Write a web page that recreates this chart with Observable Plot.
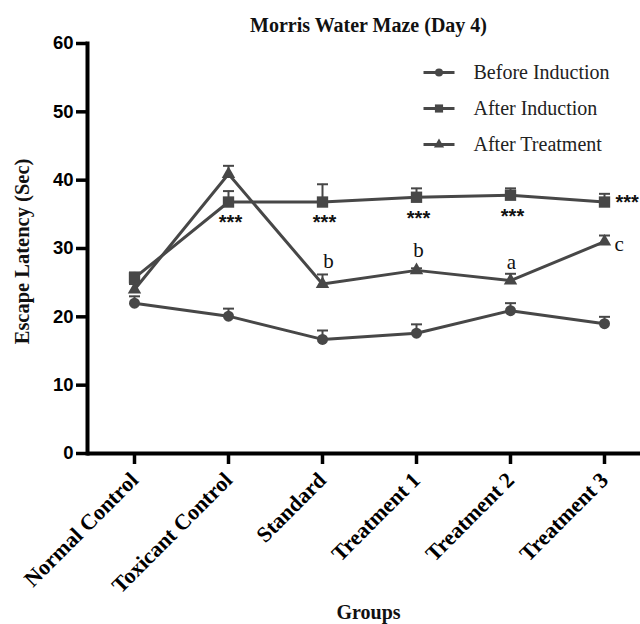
<!DOCTYPE html>
<html>
<head>
<meta charset="utf-8">
<script src="https://cdn.jsdelivr.net/npm/d3@7"></script>
<script src="https://cdn.jsdelivr.net/npm/@observablehq/plot@0.6"></script>
<style>
  html, body { margin: 0; padding: 0; background: #fff; }
  #chart svg { display: block; overflow: visible; }
</style>
</head>
<body>
<div id="chart"></div>
<script>
// ---- data ----
const groups = ["Normal Control", "Toxicant Control", "Standard", "Treatment 1", "Treatment 2", "Treatment 3"];
const series = ["Before Induction", "After Induction", "After Treatment"];
const beforeMean = [22.0, 20.1, 16.7, 17.6, 20.9, 19.0];
const beforeSem  = [1.0, 1.1, 1.3, 1.3, 1.1, 1.0];
const afterIndMean = [25.7, 36.8, 36.8, 37.5, 37.8, 36.8];
const afterIndSem  = [0.8, 1.6, 2.6, 1.3, 1.0, 1.2];
const afterTrtMean = [24.0, 40.9, 24.8, 26.8, 25.3, 31.0];
const afterTrtSem  = [0.8, 1.2, 1.4, 0.3, 1.0, 0.9];
const yTicks = [0, 10, 20, 30, 40, 50, 60];
const starGroups = ["Toxicant Control", "Standard", "Treatment 1", "Treatment 2"];
const starSideGroup = "Treatment 3";
const starText = "***";
const letterGroups = ["Standard", "Treatment 1", "Treatment 2", "Treatment 3"];
const letters = ["b", "b", "a", "c"];
const titleText = "Morris Water Maze (Day 4)";
const yLabel = "Escape Latency (Sec)";
const xLabel = "Groups";

// ---- table ----
const means = [beforeMean, afterIndMean, afterTrtMean];
const sems = [beforeSem, afterIndSem, afterTrtSem];
const rows = [];
series.forEach((s, si) => groups.forEach((g, gi) =>
  rows.push({series: s, group: g, mean: means[si][gi], sem: sems[si][gi]})));

const ink = "#474747";
const serif = "Liberation Serif, Times New Roman, serif";
const sans = "Liberation Sans, Arial, sans-serif";

const capSymbol = {draw(ctx) { ctx.moveTo(-5.5, 0); ctx.lineTo(5.5, 0); }};
const legendLine = {draw(ctx) { ctx.moveTo(-15.5, 0); ctx.lineTo(15.5, 0); }};
const shapes = ["circle", "square", "triangle"];
const shapeR = [5.5, 6.4, 5.0];
const legendR = [4, 4.6, 3.8];

const marks = [];
// axes
marks.push(Plot.ruleY([0], {strokeWidth: 4}));
marks.push(Plot.frame({anchor: "left", strokeWidth: 4}));
marks.push(Plot.axisY({ticks: yTicks, tickSize: 11, strokeWidth: 3.5, tickPadding: 3,
  fontSize: 18.5, fontWeight: "bold", fontFamily: sans, label: null}));
marks.push(Plot.axisX({tickRotate: -45, tickSize: 11, strokeWidth: 3.5, tickPadding: 12,
  fontSize: 22, fontWeight: "bold", fontFamily: serif, label: null}));

// data
marks.push(Plot.line(rows, {x: "group", y: "mean", z: "series", stroke: ink, strokeWidth: 3}));
marks.push(Plot.ruleX(rows, {x: "group", y1: "mean", y2: d => d.mean + d.sem, stroke: ink, strokeWidth: 2}));
marks.push(Plot.dot(rows, {x: "group", y: d => d.mean + d.sem, symbol: capSymbol, stroke: ink, strokeWidth: 2, r: 5}));
series.forEach((s, i) => {
  marks.push(Plot.dot(rows, {filter: d => d.series === s, x: "group", y: "mean",
    symbol: shapes[i], r: shapeR[i], fill: ink, stroke: "none"}));
});

// significance annotations
const afterInd = rows.filter(d => d.series === "After Induction");
marks.push(Plot.text(afterInd, {filter: d => starGroups.includes(d.group), x: "group", y: "mean",
  text: () => starText, dy: 21, dx: 2, fontSize: 20, fontWeight: "bold", fontFamily: sans, fill: "#111"}));
marks.push(Plot.text(afterInd, {filter: d => d.group === starSideGroup, x: "group", y: "mean",
  text: () => starText, dx: 11, dy: 1, textAnchor: "start", fontSize: 20, fontWeight: "bold", fontFamily: sans, fill: "#111"}));
const afterTrt = rows.filter(d => d.series === "After Treatment");
const letterOffsets = [[6, -6, "middle", "bottom"], [2, -11, "middle", "bottom"], [1, -5, "middle", "bottom"], [10, 3, "start", "middle"]];
letterGroups.forEach((g, i) => {
  const [dx, dy, ta, la] = letterOffsets[i];
  marks.push(Plot.text(afterTrt, {filter: d => d.group === g, x: "group",
    y: la === "bottom" ? (d => d.mean + d.sem) : "mean",
    text: () => letters[i], dx, dy, textAnchor: ta, lineAnchor: la, fontSize: 21, fontFamily: serif, fill: "#111"}));
});

// legend
series.forEach((s, i) => {
  const dy = 29 + 36 * i;
  marks.push(Plot.dot([s], {frameAnchor: "top-left", dx: 351.5, dy, symbol: legendLine, r: 5, stroke: ink, strokeWidth: 3}));
  marks.push(Plot.dot([s], {frameAnchor: "top-left", dx: 351.5, dy, symbol: shapes[i], r: legendR[i], fill: ink}));
  marks.push(Plot.text([s], {frameAnchor: "top-left", dx: 386, dy, text: d => d, textAnchor: "start",
    lineAnchor: "middle", fontSize: 20, fontFamily: serif, fill: "#222"}));
});

// titles
marks.push(Plot.text([titleText], {frameAnchor: "top-left", dx: 281, dy: -12, lineAnchor: "bottom", textAnchor: "middle",
  text: d => d, fontSize: 20, fontWeight: "bold", fontFamily: serif, fill: "#111"}));
marks.push(Plot.text([yLabel], {frameAnchor: "left", dx: -65, dy: 3, rotate: -90, textAnchor: "middle", lineAnchor: "middle",
  text: d => d, fontSize: 20.5, fontWeight: "bold", fontFamily: serif, fill: "#111"}));
marks.push(Plot.text([xLabel], {frameAnchor: "bottom-left", dx: 281, dy: 165, lineAnchor: "bottom", textAnchor: "middle",
  text: d => d, fontSize: 20, fontWeight: "bold", fontFamily: serif, fill: "#111"}));

const chart = Plot.plot({
  width: 640,
  height: 624,
  marginTop: 43,
  marginBottom: 171,
  marginLeft: 87,
  marginRight: 0,
  x: {type: "point", domain: groups, range: [133, 604], padding: 0},
  y: {domain: [0, 60]},
  style: {background: "#fff", color: "#000", overflow: "visible"},
  marks
});
document.getElementById("chart").appendChild(chart);
</script>
</body>
</html>
